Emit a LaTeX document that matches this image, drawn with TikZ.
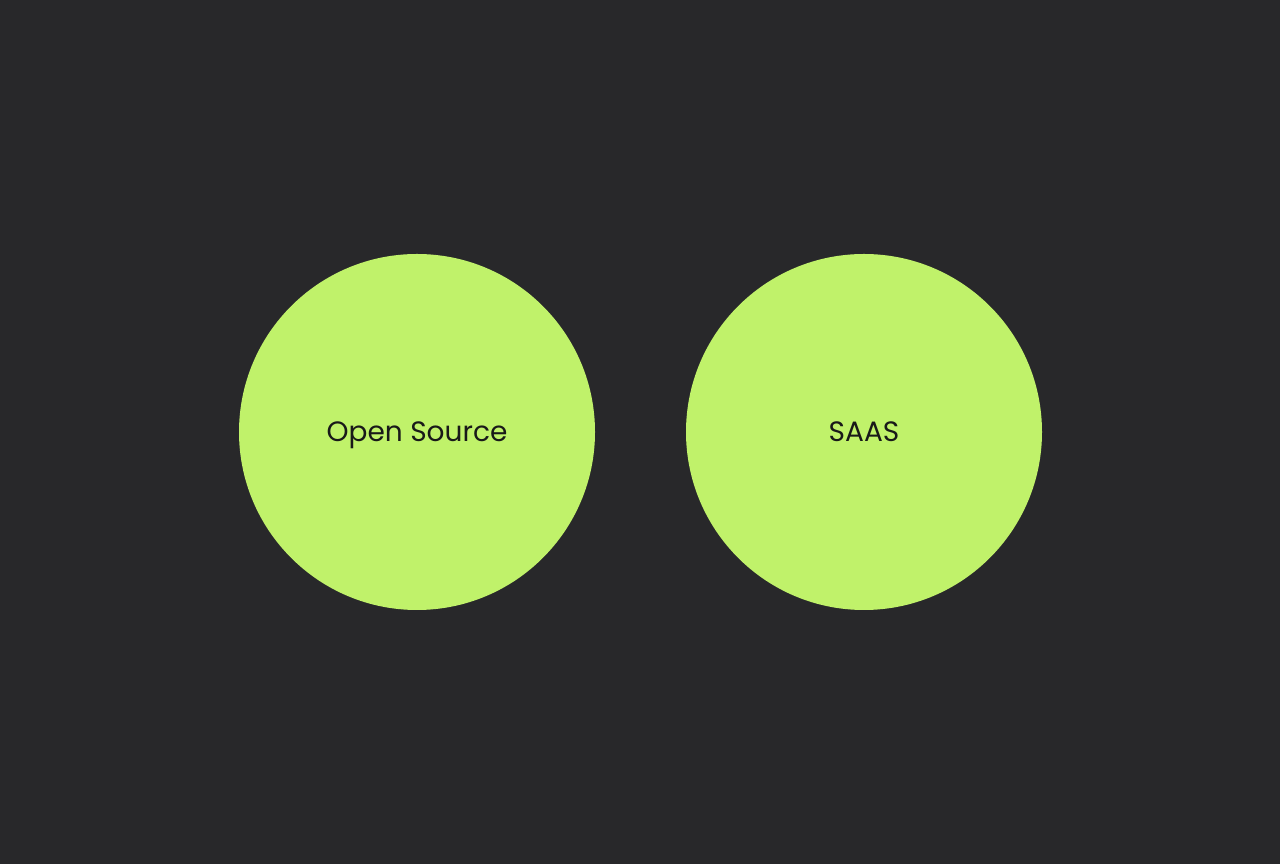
\documentclass[tikz,border=0pt]{standalone}
\usepackage{fontspec}
\setmainfont{Poppins}
\definecolor{bg}{HTML}{28282A}
\definecolor{lime}{HTML}{C0F26A}
\begin{document}
\begin{tikzpicture}[x=1pt,y=1pt,
  bubble/.style={circle,fill=lime,minimum size=356pt,inner sep=0pt,font=\fontsize{28}{32}\selectfont,text=black!90,text height=20pt,text depth=0pt}]
\fill[bg] (0,0) rectangle (1280,864);
\useasboundingbox (0,0) rectangle (1280,864);
\node[bubble] (os) at (417,432) {Open Source};
\node[bubble] (saas) at (864,432) {SAAS};
\end{tikzpicture}
\end{document}
